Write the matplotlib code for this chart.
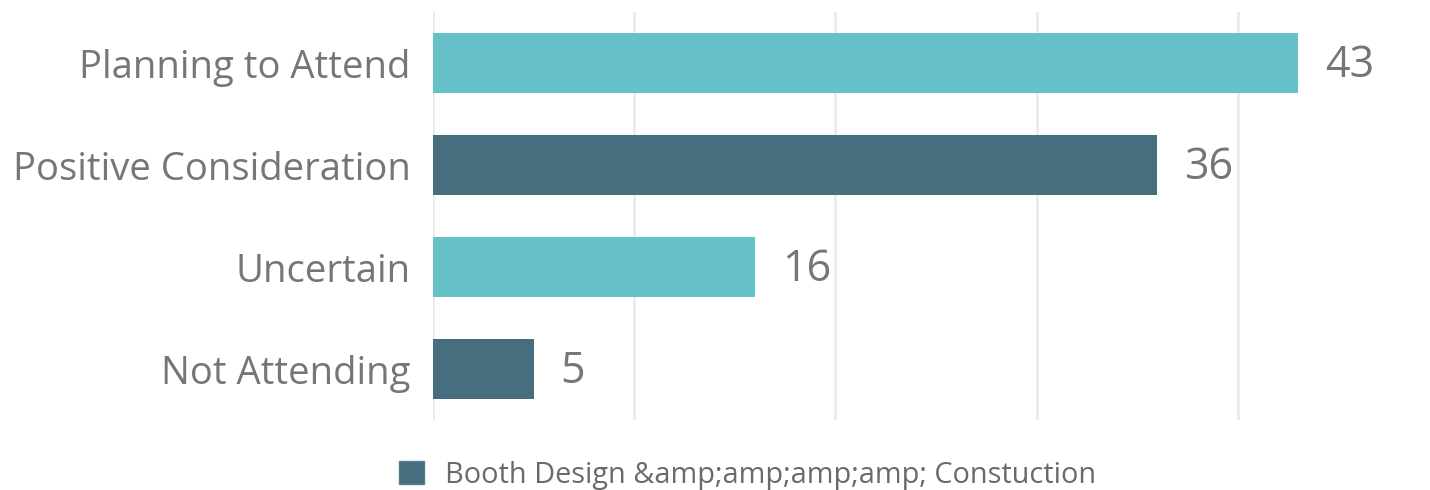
import matplotlib
matplotlib.use("Agg")
import matplotlib.pyplot as plt
from matplotlib.patches import Patch

categories = ["Planning to Attend", "Positive Consideration", "Uncertain", "Not Attending"]
values = [43, 36, 16, 5]
legend_label = "Booth Design &amp;amp;amp;amp; Constuction"

TEAL = "#67C1C8"
DARK = "#476E7F"
bar_colors = [TEAL, DARK, TEAL, DARK]
TEXT = "#767676"

plt.rcParams["font.family"] = ["Open Sans", "DejaVu Sans"]

fig = plt.figure(figsize=(14.3, 4.9), dpi=100)
ax = fig.add_axes([433/1430, 1-420/490, 986/1430, 408/490])

y = list(range(len(categories)))
ax.barh(y, values, height=0.58, color=bar_colors, zorder=2)
ax.set_ylim(len(categories)-0.5, -0.5)
ax.set_xlim(0, 49)
ax.set_xticks([0, 10, 20, 30, 40])
ax.set_xticklabels([])
ax.tick_params(axis="x", length=0)
ax.tick_params(axis="y", length=0, pad=16)
ax.set_yticks(y)
ax.set_yticklabels(categories, fontsize=27.5, color=TEXT)
ax.grid(axis="x", color="#ebebeb", linewidth=2, zorder=0)
for s in ax.spines.values():
    s.set_visible(False)

for yi, v in zip(y, values):
    ax.annotate(str(v), (v, yi), xytext=(27, -3), textcoords="offset pixels",
                va="center", ha="left", fontsize=31, color=TEXT)

fig.legend(handles=[Patch(facecolor=DARK, edgecolor="#5a7f8f", linewidth=1)],
           labels=[legend_label], loc="center", bbox_to_anchor=(0.523, 0.03),
           frameon=False, fontsize=20.8, handlelength=0.85, handleheight=0.85,
           handletextpad=0.75, labelcolor="#6a6a6a")

fig.savefig("out.png", dpi=100, facecolor="white")
